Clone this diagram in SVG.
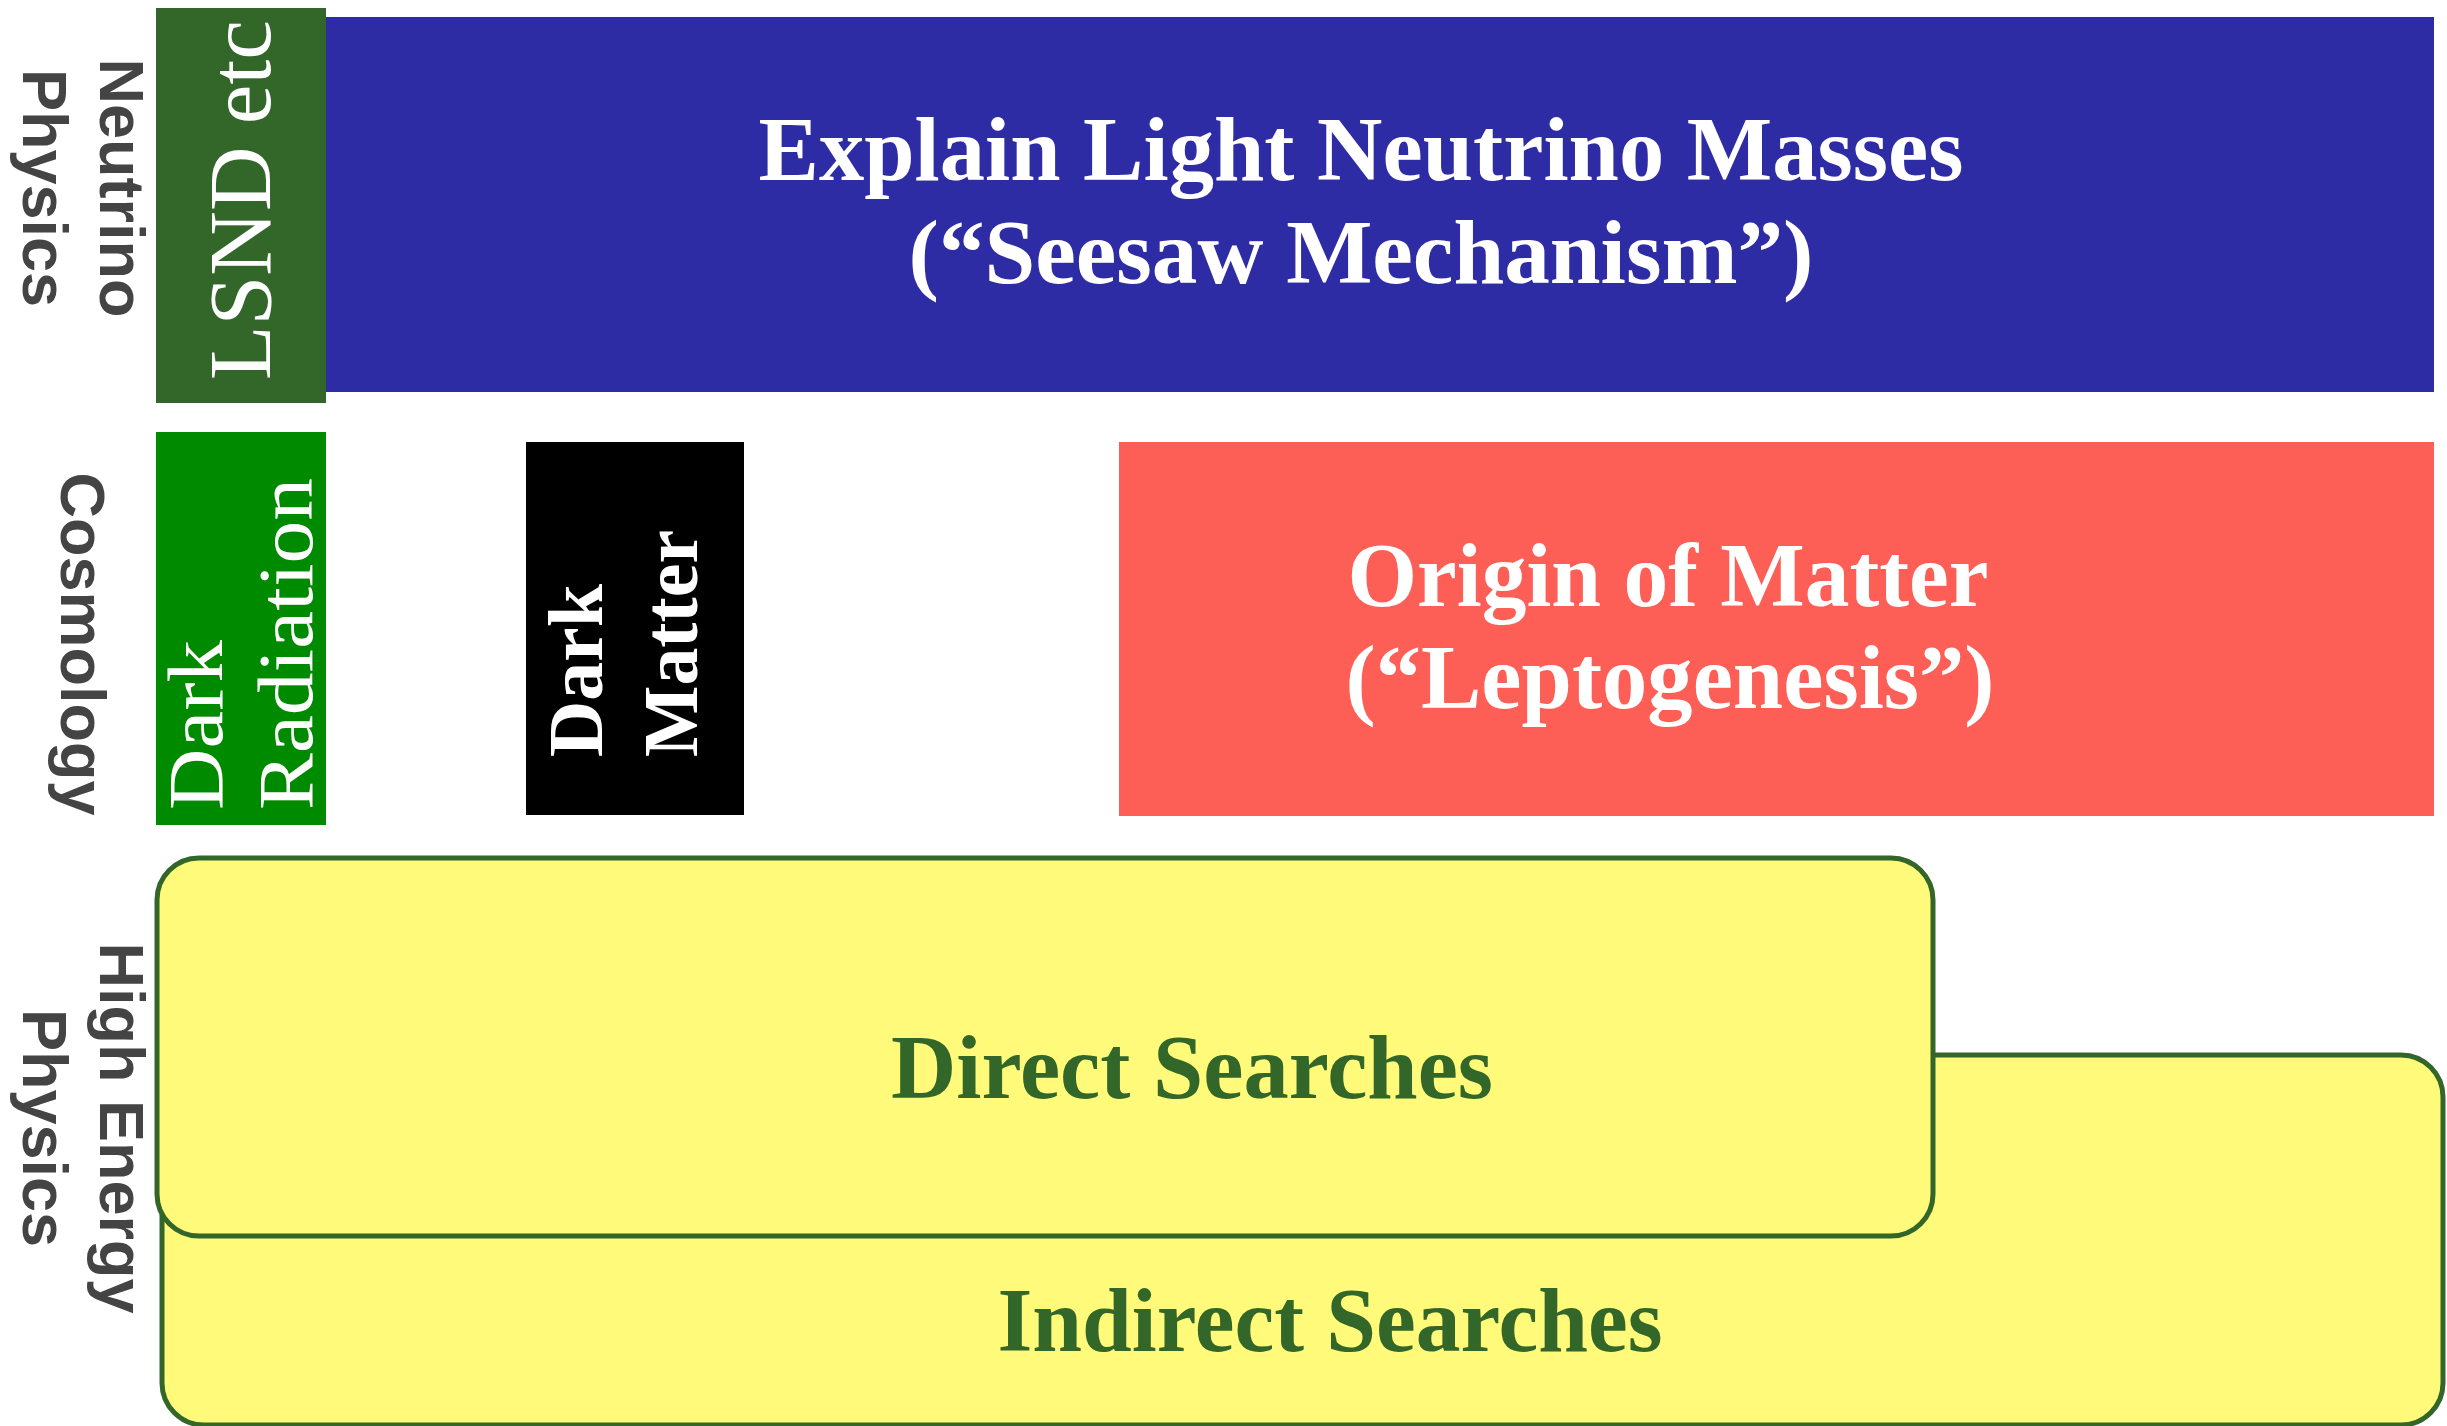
<svg xmlns="http://www.w3.org/2000/svg" width="2447" height="1426" viewBox="0 0 2447 1426">
  <style>
    .axis { font-family: "Liberation Sans", Arial, sans-serif; font-weight: bold; font-size: 63px; fill: #444444; text-anchor: middle; }
    .serif { font-family: "Liberation Serif", "Times New Roman", serif; fill: #ffffff; }
    .bold { font-weight: bold; }
    .title { font-size: 90px; font-weight: bold; text-anchor: middle; }
    .search { font-family: "Liberation Serif", "Times New Roman", serif; font-size: 90px; font-weight: bold; fill: #336629; text-anchor: middle; }
    .panel { fill: #fffa7a; stroke: #336629; stroke-width: 5; }
  </style>

  <!-- row labels, turned on their side -->
  <g id="label-neutrino">
    <text class="axis" transform="translate(100,188) rotate(90)"><tspan x="0" y="0">Neutrino</tspan><tspan x="0" y="77">Physics</tspan></text>
  </g>
  <g id="label-cosmology">
    <text class="axis" transform="translate(61,644) rotate(90)">Cosmology</text>
  </g>
  <g id="label-hep">
    <text class="axis" transform="translate(100,1128) rotate(90)"><tspan x="0" y="0">High Energy</tspan><tspan x="0" y="77">Physics</tspan></text>
  </g>

  <!-- neutrino physics row -->
  <g id="seesaw">
    <rect x="326" y="17" width="2108" height="375" fill="#2e2ca5"/>
    <text class="serif title" x="1361" y="180" textLength="1205" lengthAdjust="spacingAndGlyphs">Explain Light Neutrino Masses</text>
    <text class="serif title" x="1361" y="283" textLength="905" lengthAdjust="spacingAndGlyphs">(“Seesaw Mechanism”)</text>
  </g>
  <g id="lsnd">
    <rect x="156" y="8" width="170" height="395" fill="#336629"/>
    <text class="serif" font-size="88" text-anchor="middle" transform="translate(270,200) rotate(-90)" textLength="360" lengthAdjust="spacingAndGlyphs">LSND etc</text>
  </g>

  <!-- cosmology row -->
  <g id="dark-radiation">
    <rect x="156" y="432" width="170" height="393" fill="#008a00"/>
    <text class="serif" font-size="78" transform="translate(222,810) rotate(-90)" textLength="170" lengthAdjust="spacingAndGlyphs">Dark</text>
    <text class="serif" font-size="78" transform="translate(312,810) rotate(-90)" textLength="332" lengthAdjust="spacingAndGlyphs">Radiation</text>
  </g>
  <g id="dark-matter">
    <rect x="526" y="442" width="218" height="373" fill="#000000"/>
    <text class="serif bold" font-size="78" transform="translate(602,757) rotate(-90)" textLength="173" lengthAdjust="spacingAndGlyphs">Dark</text>
    <text class="serif bold" font-size="78" transform="translate(697,757) rotate(-90)" textLength="227" lengthAdjust="spacingAndGlyphs">Matter</text>
  </g>
  <g id="leptogenesis">
    <rect x="1119" y="442" width="1315" height="374" fill="#fd5e55"/>
    <text class="serif title" x="1668" y="606" textLength="641" lengthAdjust="spacingAndGlyphs">Origin of Matter</text>
    <text class="serif title" x="1670" y="708" textLength="649" lengthAdjust="spacingAndGlyphs">(“Leptogenesis”)</text>
  </g>

  <!-- high energy physics row: indirect panel sits behind the direct one -->
  <g id="indirect-searches">
    <rect class="panel" x="162" y="1055" width="2281" height="370" rx="42" ry="42"/>
    <text class="search" x="1330" y="1351" textLength="665" lengthAdjust="spacingAndGlyphs">Indirect Searches</text>
  </g>
  <g id="direct-searches">
    <rect class="panel" x="157" y="858" width="1776" height="378" rx="42" ry="42"/>
    <text class="search" x="1192" y="1098" textLength="602" lengthAdjust="spacingAndGlyphs">Direct Searches</text>
  </g>
</svg>
